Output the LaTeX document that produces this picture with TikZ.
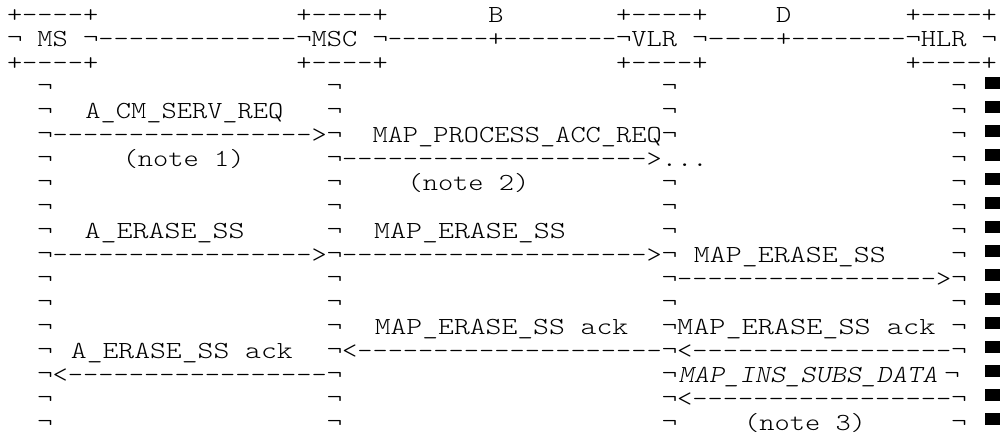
\documentclass[tikz,border=0pt]{standalone}
\usepackage{fontspec}
\newcommand\Dash[1]{\ifnum#1>0 -{}\expandafter\Dash\expandafter{\the\numexpr#1-1\relax}\fi}
\newcommand\SX{1.184}
\tikzset{
  t/.style={anchor=base west, inner sep=0pt, outer sep=0pt, font=\fontsize{24.5}{24.5}\selectfont\ttfamily\fontseries{l}\selectfont},
}
% name, column, row, text
\newcommand\F[4]{\node[t] (#1) at ({7+15.23*(#2)},{22.5+24*((#3)-1)}) {\scalebox{\SX}[1]{#4}};}
% name, column, row, horizontal factor, text
\newcommand\G[5]{\node[t] (#1) at ({7+15.23*(#2)},{22.5+24*((#3)-1)}) {\scalebox{\fpeval{\SX*(#4)}}[1]{#5}};}
\begin{document}
\begin{tikzpicture}[x=1pt,y=-1pt]
\fill[white] (0,0) rectangle (1000,436);
\useasboundingbox (0,0) rectangle (1000,436);
% row 1
\F{r1a}{0}{1}{+\Dash{4}+}
\F{r1b}{19}{1}{+\Dash{4}+}
\F{r1B}{31.6}{1}{B}
\F{r1c}{40}{1}{+\Dash{4}+}
\F{r1D}{50.5}{1}{D}
\F{r1d}{59}{1}{+\Dash{4}+}
% row 2
\F{ms}{0}{2}{¬ MS ¬}
\F{r2a}{6}{2}{\Dash{13}}
\F{msc}{19}{2}{¬MSC ¬}
\G{r2b}{25}{2}{6.6/7}{\Dash{7}}
\F{r2B}{31.6}{2}{+}
\G{r2c}{32.6}{2}{7.4/8}{\Dash{8}}
\F{vlr}{40}{2}{¬VLR ¬}
\G{r2d}{46}{2}{4.5/4}{\Dash{4}}
\F{r2D}{50.5}{2}{+}
\G{r2e}{51.5}{2}{7.5/8}{\Dash{8}}
\F{hlr}{59}{2}{¬HLR ¬}
% row 3
\F{r3a}{0}{3}{+\Dash{4}+}
\F{r3b}{19}{3}{+\Dash{4}+}
\F{r3c}{40}{3}{+\Dash{4}+}
\F{r3d}{59}{3}{+\Dash{4}+}
% lifelines
\foreach \r in {4,5,6,8,9,10,11,12,13,14,15,17,18}{
  \foreach \c in {2,21,43,62}{\F{l\r-\c}{\c}{\r}{¬}}}
\foreach \c in {2,21,62}{\F{l7-\c}{\c}{7}{¬}}
\foreach \c in {2,21,43,61.55}{\F{l16-\c}{\c}{16}{¬}}
% messages
\F{m1}{5.15}{5}{A\_CM\_SERV\_REQ}
\F{a1}{3}{6}{\Dash{17}>}
\F{m2}{24}{6}{MAP\_PROCESS\_ACC\_REQ}
\F{n1}{7.6}{7}{(note 1)}
\F{a2}{22}{7}{\Dash{20}>...}
\F{n2}{26.3}{8}{(note 2)}
\G{m3}{5.1}{10}{1.05}{A\_ERASE\_SS}
\G{m4}{24.1}{10}{1.05}{MAP\_ERASE\_SS}
\F{a3}{3}{11}{\Dash{17}>}
\F{a4}{22}{11}{\Dash{20}>}
\G{m5}{45.1}{11}{1.05}{MAP\_ERASE\_SS}
\F{a5}{44}{12}{\Dash{17}>}
\G{m6}{24.15}{14}{1.04}{MAP\_ERASE\_SS ack}
\G{m7}{44}{14}{1.06}{MAP\_ERASE\_SS ack}
\G{m8}{4.2}{15}{1.04}{A\_ERASE\_SS ack}
\F{a6}{22}{15}{<\Dash{20}}
\F{a7}{44}{15}{<\Dash{17}}
\F{a8}{3}{16}{<\Dash{17}}
\F{m9}{44.1}{16}{\slshape MAP\_INS\_SUBS\_DATA}
\F{a9}{44}{17}{<\Dash{17}}
\F{n3}{48.4}{18}{(note 3)}
% end-of-line marks
\foreach \r in {4,...,18}{\fill (985,{77+24*(\r-4)}) rectangle ++(16,11.5);}
\end{tikzpicture}
\end{document}
